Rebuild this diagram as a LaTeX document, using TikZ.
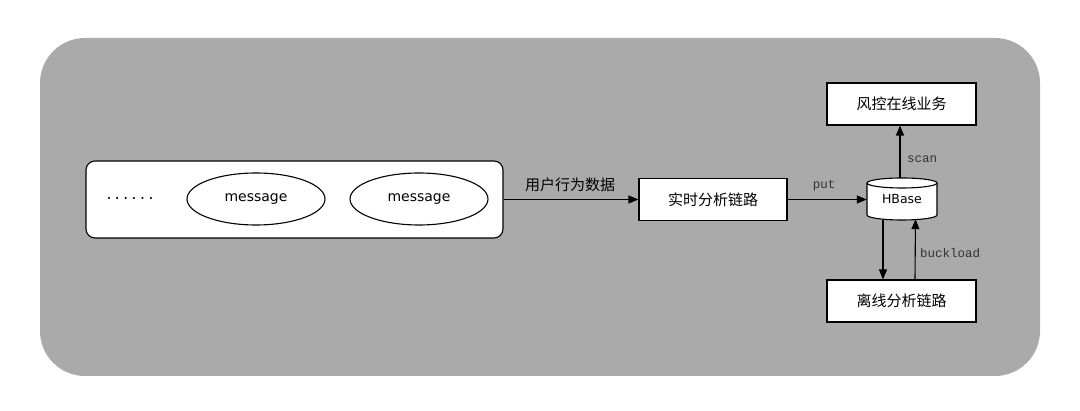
\documentclass[tikz,border=0pt]{standalone}
\usepackage{fontspec}
\setmainfont{DejaVu Sans}
\newfontfamily\cjk{Noto Sans CJK SC}
\newfontfamily\monof{Liberation Mono}
\usetikzlibrary{arrows.meta,shapes.geometric,calc}
\definecolor{bggray}{RGB}{170,170,170}
\tikzset{
  box/.style={draw, line width=1.1pt, fill=white, minimum width=148pt, minimum height=42pt, inner sep=0pt, font=\cjk\fontsize{15}{17}\selectfont},
  msg/.style={draw, line width=1.1pt, ellipse, fill=white, minimum width=138pt, minimum height=52pt, inner sep=0pt, font=\fontsize{14}{16}\selectfont},
  arr/.style={line width=1.1pt, -{Triangle[length=10pt,width=8pt]}},
  lbl/.style={font=\monof\fontsize{12.5}{14}\selectfont, text=black!80},
  cnlbl/.style={font=\cjk\fontsize{15}{17}\selectfont},
}
\begin{document}
\begin{tikzpicture}[x=1pt,y=1pt]
\useasboundingbox (0,0) rectangle (1080,411);
\fill[white] (0,0) rectangle (1080,411);
\fill[bggray, rounded corners=45pt] (40,35) rectangle (1040,373);
% container
\node[draw, line width=1.1pt, fill=white, rounded corners=9pt, minimum width=417pt, minimum height=77pt, inner sep=0pt] (cont) at (294.5,211.5) {};
\node[font=\monof\fontsize{14}{16}\selectfont] (dots) at (130,213) {......};
\node[msg] (m1) at (256,212) {message};
\node[msg] (m2) at (419,212) {message};
% realtime box
\node[box] (rt) at (713,211.5) {实时分析链路};
% HBase cylinder
\draw[line width=1.1pt, fill=white] (867,228) -- (867,196) arc[start angle=180, end angle=360, x radius=35pt, y radius=5pt] -- (937,228);
\draw[line width=1.1pt, fill=white] (902,228) circle[x radius=35pt, y radius=5pt];
\node[minimum width=70pt, minimum height=42pt, inner sep=0pt, font=\fontsize{12.5}{14}\selectfont] (hb) at (902,212) {HBase};
% top and bottom boxes
\node[box, minimum width=149pt] (top) at (901.5,307) {风控在线业务};
\node[box, minimum width=149pt] (bot) at (901.5,110) {离线分析链路};
% connectors
\draw[arr] (cont.east) -- (rt.west);
\node[cnlbl] (l1) at (570,226) {用户行为数据};
\draw[arr] (rt.east) -- (hb.west |- rt.east);
\node[lbl] (l2) at (824,225) {put};
\coordinate (sc) at ($(hb.north)+(-2,0)$);
\draw[arr] (sc) -- (sc |- top.south);
\node[lbl] (l3) at (922,252) {scan};
\coordinate (dn) at ($(hb.south)+(-19,0)$);
\draw[arr] (dn) -- (dn |- bot.north);
\coordinate (up) at ($(bot.north)+(13.5,0)$);
\coordinate (upend) at ($(hb.south)+(13.5,1)$);
\draw[arr] (up) -- (upend);
\node[lbl] (l4) at (950,158) {buckload};
\end{tikzpicture}
\end{document}
